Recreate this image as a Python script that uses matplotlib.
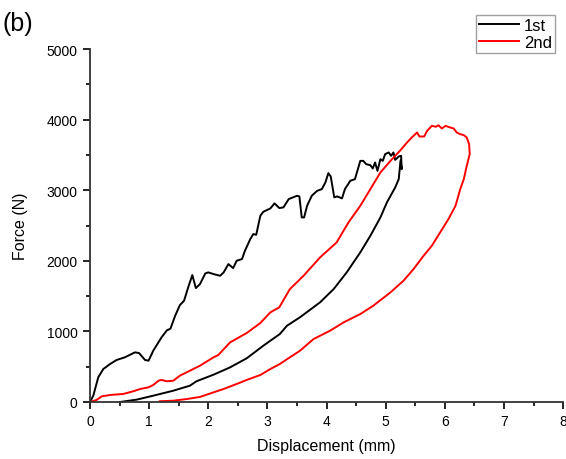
import matplotlib
matplotlib.use('Agg')
from matplotlib import pyplot as plt
from matplotlib.ticker import MultipleLocator

plt.rcParams['font.family'] = ['Liberation Sans', 'DejaVu Sans']

# 1st cycle: loading then unloading (displacement mm, force N)
disp_1st = [0, 0.056, 0.14, 0.225, 0.34, 0.45, 0.59, 0.76, 0.83, 0.93, 0.99, 1.07, 1.21, 1.30,
            1.36, 1.44, 1.52, 1.59, 1.66, 1.73, 1.79, 1.86, 1.95, 2.00, 2.09, 2.20, 2.26, 2.34,
            2.42, 2.48, 2.57, 2.62, 2.71, 2.76, 2.81, 2.88, 2.93, 3.05, 3.12, 3.20, 3.27, 3.36,
            3.50, 3.54, 3.58, 3.62, 3.67, 3.75, 3.84, 3.92, 3.98, 4.03, 4.07, 4.13, 4.18, 4.26,
            4.31, 4.40, 4.48, 4.57, 4.62, 4.67, 4.74, 4.78, 4.82, 4.86, 4.91, 4.95, 4.99, 5.05,
            5.09, 5.13, 5.16, 5.22, 5.26, 5.27,
            5.25, 5.22, 5.16, 5.02, 4.91, 4.74, 4.57, 4.34, 4.12, 3.89, 3.55, 3.33, 3.21, 2.93,
            2.65, 2.37, 2.09, 1.80, 1.69, 1.41, 1.07, 0.79, 0.51]
force_1st = [0, 90, 350, 467, 538, 595, 633, 703, 693, 595, 585, 727, 916, 1015,
             1038, 1222, 1373, 1434, 1624, 1798, 1614, 1671, 1822, 1836, 1812, 1788, 1836, 1954,
             1897, 2001, 2025, 2143, 2308, 2379, 2369, 2638, 2695, 2743, 2814, 2748, 2757, 2875,
             2922, 2913, 2615, 2615, 2780, 2922, 2992, 3016, 3111, 3243, 3196, 2899, 2913, 2885,
             3016, 3134, 3158, 3417, 3417, 3370, 3356, 3309, 3394, 3275, 3441, 3417, 3512, 3536,
             3488, 3536, 3431, 3479, 3488, 3299,
             3420, 3158, 3040, 2828, 2615, 2355, 2120, 1836, 1600, 1412, 1200, 1080, 963, 797,
             619, 491, 387, 293, 231, 160, 89, 33, 0]

# 2nd cycle: loading then unloading
disp_2nd = [0, 0.11, 0.20, 0.34, 0.56, 0.73, 0.85, 0.99, 1.07, 1.16, 1.21, 1.30, 1.41, 1.52,
            1.69, 1.86, 2.09, 2.17, 2.37, 2.65, 2.88, 3.05, 3.20, 3.38, 3.61, 3.89, 4.17, 4.37,
            4.57, 4.74, 4.91, 5.08, 5.24, 5.36, 5.44, 5.53, 5.57, 5.65, 5.70, 5.78, 5.85, 5.89,
            5.95, 6.01, 6.09, 6.15, 6.20, 6.26, 6.32, 6.37, 6.41, 6.42,
            6.37, 6.32, 6.26, 6.18, 6.06, 5.92, 5.78, 5.64, 5.47, 5.30, 5.08, 4.79, 4.57, 4.29,
            4.06, 3.78, 3.55, 3.38, 3.21, 3.05, 2.88, 2.65, 2.48, 2.26, 2.09, 1.86, 1.64, 1.41,
            1.18]
force_2nd = [0, 28, 80, 99, 113, 151, 184, 208, 241, 302, 312, 293, 302, 373,
             443, 514, 633, 666, 845, 977, 1119, 1270, 1341, 1600, 1788, 2049, 2261, 2544,
             2780, 3016, 3252, 3417, 3559, 3677, 3748, 3819, 3762, 3762, 3842, 3913, 3900, 3922,
             3875, 3913, 3890, 3875, 3819, 3795, 3781, 3748, 3653, 3512,
             3346, 3158, 3016, 2780, 2591, 2403, 2214, 2072, 1883, 1718, 1553, 1364, 1246, 1129,
             1010, 892, 726, 633, 538, 467, 382, 312, 255, 184, 137, 71, 42, 18,
             10]

fig = plt.figure(figsize=(5.66, 4.6), dpi=100)
ax = fig.add_axes([0.159, 0.124, 0.836, 0.767])

ax.plot(disp_1st, force_1st, color='black', lw=1.4, label='1st')
ax.plot(disp_2nd, force_2nd, color='red', lw=1.4, label='2nd')

ax.set_xlim(0, 8)
ax.set_ylim(0, 5000)
ax.xaxis.set_major_locator(MultipleLocator(1))
ax.xaxis.set_minor_locator(MultipleLocator(0.5))
ax.yaxis.set_major_locator(MultipleLocator(1000))
ax.yaxis.set_minor_locator(MultipleLocator(500))

for s in ['top', 'right']:
    ax.spines[s].set_visible(False)
for s in ['left', 'bottom']:
    ax.spines[s].set_linewidth(1.3)
    ax.spines[s].set_color('#333333')
ax.tick_params(which='major', direction='out', length=5, width=1.2, labelsize=10, pad=4)
ax.tick_params(which='minor', direction='out', length=3, width=1.2)

ax.set_xlabel('Displacement (mm)', fontsize=11.5, labelpad=7)
ax.set_ylabel('Force (N)', fontsize=11.5, labelpad=13)

fig.text(0.005, 0.975, '(b)', fontsize=18, va='top', ha='left')

leg = ax.legend(loc='upper right', bbox_to_anchor=(0.981, 0.966), bbox_transform=fig.transFigure,
                fontsize=12, frameon=True, fancybox=False, handlelength=2.4, handletextpad=0.3,
                borderpad=0.2, labelspacing=0.1, borderaxespad=0)
leg.get_frame().set_edgecolor('#888888')
leg.get_frame().set_linewidth(1.0)

fig.savefig('out.png', dpi=100)
